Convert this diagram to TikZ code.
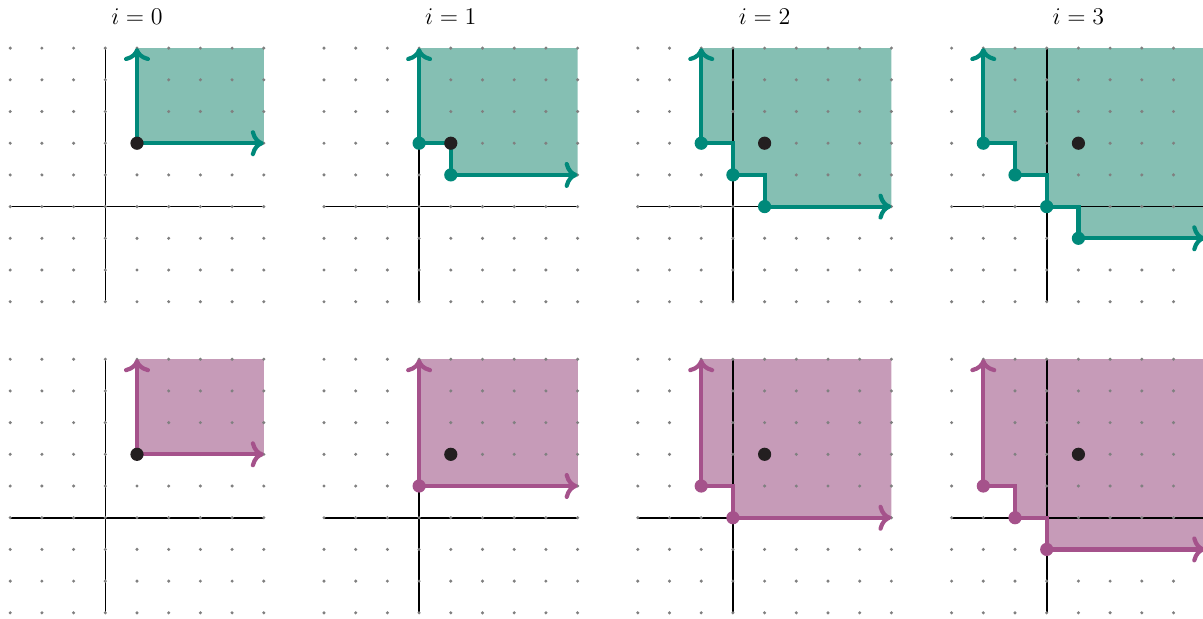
\documentclass[tikz,border=0pt]{standalone}
\usetikzlibrary{arrows.meta}
\definecolor{tealS}{HTML}{00897A}
\definecolor{tealF}{HTML}{85BFB3}
\definecolor{plumS}{HTML}{A5528B}
\definecolor{plumF}{HTML}{C69BB8}
\definecolor{inkdot}{HTML}{231F20}
\definecolor{gridgray}{HTML}{808080}
\tikzset{
  panel/.style={x=15.85pt,y=15.85pt},
  gdot/.style={fill=gridgray},
  axisline/.style={line width=0.8pt,black},
  stair/.style={line width=2.1pt,{To[length=6.5pt,width=13pt,round]}-{To[length=6.5pt,width=13pt,round]}},
  tealpath/.style={stair,draw=tealS},
  plumpath/.style={stair,draw=plumS},
  tealarea/.style={fill=tealF},
  plumarea/.style={fill=plumF},
  tealmark/.style={fill=tealS},
  plummark/.style={fill=plumS},
  blackmark/.style={fill=inkdot},
  ttl/.style={inner sep=0pt,font=\large}
}
\newcommand\gridbase{%
  \draw[axisline] (-3,0) -- (5,0);
  \draw[axisline] (0,-3) -- (0,5);
  \foreach \x in {-3,...,5} \foreach \y in {-3,...,5} \fill[gdot] (\x,\y) circle (0.85pt);
}
\begin{document}
\begin{tikzpicture}
\useasboundingbox (0,0) rectangle (601.5pt,-309pt);
% ---------- top row ----------
\begin{scope}[shift={(52.65pt,-103.3pt)},panel]
  \node[ttl] (t0) at (1,6) {$i=0$};
  \fill[tealarea] (1,5) -- (1,2) -- (5,2) -- (5,5) -- cycle;
  \gridbase
  \draw[tealpath] (1,5) -- (1,2) -- (5,2);
  \fill[blackmark] (1,2) circle (3.3pt);
\end{scope}
\begin{scope}[shift={(209.55pt,-103.3pt)},panel]
  \node[ttl] (t1) at (1,6) {$i=1$};
  \fill[tealarea] (0,5) -- (0,2) -- (1,2) -- (1,1) -- (5,1) -- (5,5) -- cycle;
  \gridbase
  \draw[tealpath] (0,5) -- (0,2) -- (1,2) -- (1,1) -- (5,1);
  \foreach \p in {(0,2),(1,1)} \fill[tealmark] \p circle (3.3pt);
  \fill[blackmark] (1,2) circle (3.3pt);
\end{scope}
\begin{scope}[shift={(366.45pt,-103.3pt)},panel]
  \node[ttl] (t2) at (1,6) {$i=2$};
  \fill[tealarea] (-1,5) -- (-1,2) -- (0,2) -- (0,1) -- (1,1) -- (1,0) -- (5,0) -- (5,5) -- cycle;
  \gridbase
  \draw[tealpath] (-1,5) -- (-1,2) -- (0,2) -- (0,1) -- (1,1) -- (1,0) -- (5,0);
  \foreach \p in {(-1,2),(0,1),(1,0)} \fill[tealmark] \p circle (3.3pt);
  \fill[blackmark] (1,2) circle (3.3pt);
\end{scope}
\begin{scope}[shift={(523.35pt,-103.3pt)},panel]
  \node[ttl] (t3) at (1,6) {$i=3$};
  \fill[tealarea] (-2,5) -- (-2,2) -- (-1,2) -- (-1,1) -- (0,1) -- (0,0) -- (1,0) -- (1,-1) -- (5,-1) -- (5,5) -- cycle;
  \gridbase
  \draw[tealpath] (-2,5) -- (-2,2) -- (-1,2) -- (-1,1) -- (0,1) -- (0,0) -- (1,0) -- (1,-1) -- (5,-1);
  \foreach \p in {(-2,2),(-1,1),(0,0),(1,-1)} \fill[tealmark] \p circle (3.3pt);
  \fill[blackmark] (1,2) circle (3.3pt);
\end{scope}
% ---------- bottom row ----------
\begin{scope}[shift={(52.65pt,-258.85pt)},panel]
  \fill[plumarea] (1,5) -- (1,2) -- (5,2) -- (5,5) -- cycle;
  \gridbase
  \draw[plumpath] (1,5) -- (1,2) -- (5,2);
  \fill[blackmark] (1,2) circle (3.3pt);
\end{scope}
\begin{scope}[shift={(209.55pt,-258.85pt)},panel]
  \fill[plumarea] (0,5) -- (0,1) -- (5,1) -- (5,5) -- cycle;
  \gridbase
  \draw[plumpath] (0,5) -- (0,1) -- (5,1);
  \fill[plummark] (0,1) circle (3.3pt);
  \fill[blackmark] (1,2) circle (3.3pt);
\end{scope}
\begin{scope}[shift={(366.45pt,-258.85pt)},panel]
  \fill[plumarea] (-1,5) -- (-1,1) -- (0,1) -- (0,0) -- (5,0) -- (5,5) -- cycle;
  \gridbase
  \draw[plumpath] (-1,5) -- (-1,1) -- (0,1) -- (0,0) -- (5,0);
  \foreach \p in {(-1,1),(0,0)} \fill[plummark] \p circle (3.3pt);
  \fill[blackmark] (1,2) circle (3.3pt);
\end{scope}
\begin{scope}[shift={(523.35pt,-258.85pt)},panel]
  \fill[plumarea] (-2,5) -- (-2,1) -- (-1,1) -- (-1,0) -- (0,0) -- (0,-1) -- (5,-1) -- (5,5) -- cycle;
  \gridbase
  \draw[plumpath] (-2,5) -- (-2,1) -- (-1,1) -- (-1,0) -- (0,0) -- (0,-1) -- (5,-1);
  \foreach \p in {(-2,1),(-1,0),(0,-1)} \fill[plummark] \p circle (3.3pt);
  \fill[blackmark] (1,2) circle (3.3pt);
\end{scope}
\end{tikzpicture}
\end{document}
